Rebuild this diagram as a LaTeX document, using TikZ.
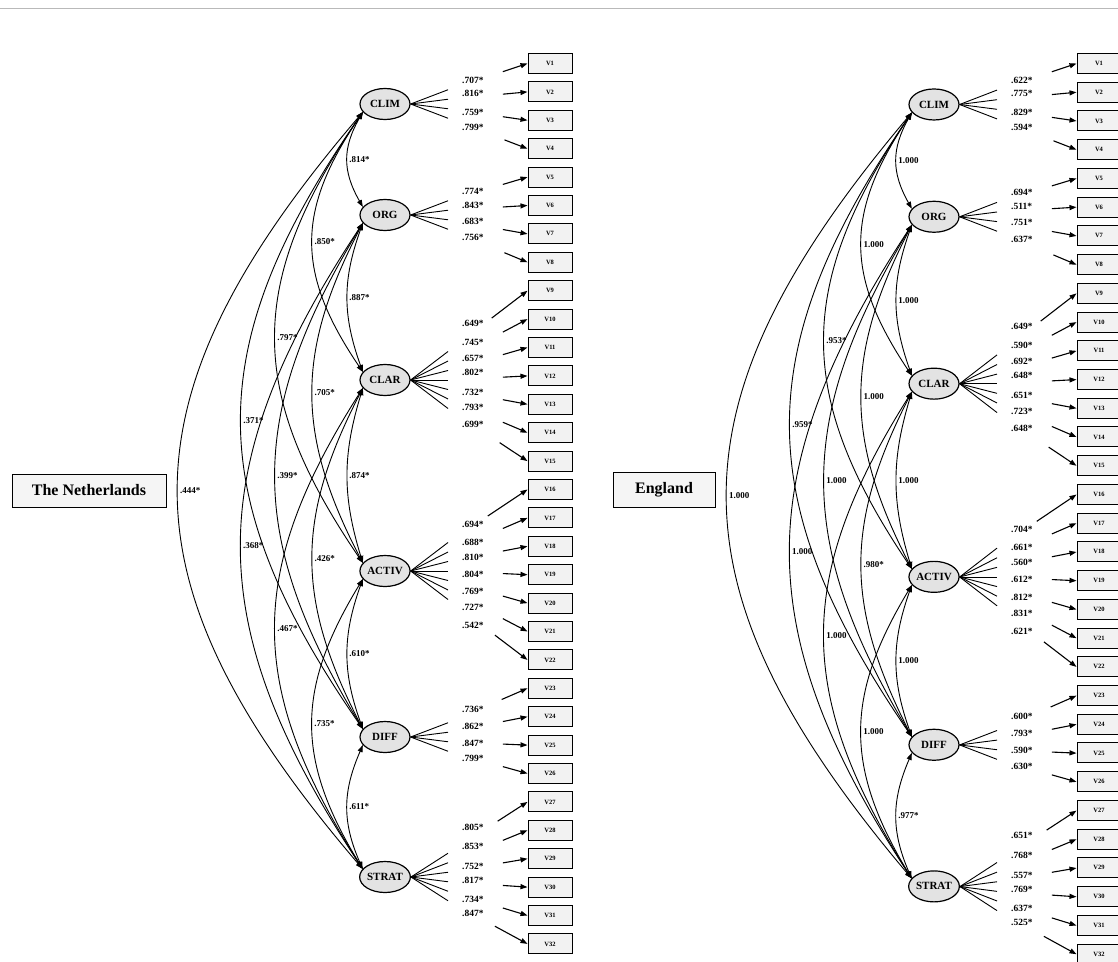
\documentclass[tikz,border=0pt]{standalone}
\usepackage{fontspec}
\setmainfont{Liberation Serif}
\usetikzlibrary{shapes.geometric,arrows.meta,calc}

\tikzset{
  factor/.style={ellipse, draw, line width=1.2pt, fill=gray!22, minimum width=50pt, minimum height=31pt, inner sep=0pt, font=\bfseries\fontsize{11}{11}\selectfont},
  ind/.style={rectangle, draw, line width=1pt, fill=gray!10, minimum width=44pt, minimum height=20pt, inner sep=0pt, font=\bfseries\fontsize{6.5}{7}\selectfont},
  load/.style={anchor=west, inner sep=0pt, font=\bfseries\fontsize{9.5}{10}\selectfont},
  clab/.style={anchor=west, inner sep=1.5pt, font=\bfseries\fontsize{9}{9}\selectfont},
  corr/.style={line width=0.9pt, {Triangle[length=7pt,width=5pt]}-{Triangle[length=7pt,width=5pt]}},
  fan/.style={line width=0.9pt},
  larrow/.style={line width=1.1pt, -{Triangle[length=7pt,width=5pt]}},
  titlebox/.style={draw, line width=1pt, fill=gray!8, inner sep=0pt, font=\bfseries\fontsize{16}{16}\selectfont},
  topline/.style={draw=gray!55, line width=0.8pt}
}

\newcommand{\sempanel}[3]{%
  \foreach \kk/\fy/\nm in {1/104/CLIM,2/215/ORG,3/380/CLAR,4/571/ACTIV,5/737/DIFF,6/877/STRAT}{
    \node[factor] (#1f\kk) at (385,-\fy) {\nm};
  }
  \foreach \ii in {1,...,32}{
    \node[ind] (#1v\ii) at (550,{-(63.5+(\ii-1)*28.4)}) {V\ii};
  }
  \foreach \kk/\fy/\nn/\st in {1/104/4/1,2/215/4/5,3/380/7/9,4/571/7/16,5/737/4/23,6/877/6/27}{
    \foreach \jj in {1,...,\nn}{
      \pgfmathtruncatemacro{\mm}{\st+\jj-1}
      \coordinate (#1e\mm) at (448,{-(\fy+(\jj-(\nn+1)/2)*9.5)});
      \draw[fan] (#1f\kk.east) -- (#1e\mm);
    }
  }
  \foreach \mm/\ff in {1/.69,2/.69,3/.69,4/.71,5/.69,6/.69,7/.69,8/.71,9/.55,10/.69,11/.69,12/.69,13/.69,14/.69,15/.65,16/.5,17/.69,18/.69,19/.69,20/.69,21/.69,22/.59,23/.675,24/.69,25/.69,26/.69,27/.625,28/.69,29/.69,30/.69,31/.69,32/.59}{
    \draw[larrow] ($(#1e\mm)!\ff!(#1v\mm.west)$) -- (#1v\mm.west);
  }
  \foreach \yy/\txt [count=\cc] in {#2}{
    \node[load] (#1l\cc) at (462,-\yy) {\txt};
  }
  \foreach \ii/\jj/\ax/\bx/\txt [count=\cc] in {#3}{
    \draw[corr] (#1f\ii.200) .. controls +(-\ax,-\bx) and +(-\ax,\bx) .. (#1f\jj.160) node[pos=0.5,clab] (#1c\cc) {\txt};
  }
}

\begin{document}
\begin{tikzpicture}[x=1pt,y=1pt]
\useasboundingbox (0,0) rectangle (1118,-961);
\draw[topline] (0,-8) -- (1118,-8);

\node[titlebox, minimum width=154pt, minimum height=33pt] (tnl) at (89,-490.5) {The Netherlands};
\node[titlebox, minimum width=102pt, minimum height=35pt] (teng) at (664,-489.5) {England};

\begin{scope}
\sempanel{L}{80/.707*,93/.816*,112/.759*,127/.799*,191/.774*,205/.843*,221/.683*,237/.756*,323/.649*,342/.745*,358/.657*,372/.802*,392/.732*,407/.793*,424/.699*,524/.694*,542/.688*,557/.810*,574/.804*,591/.769*,607/.727*,625/.542*,709/.736*,726/.862*,743/.847*,758/.799*,827/.805*,846/.853*,866/.752*,880/.817*,899/.734*,913/.847*}{1/2/20.5/36/.814*,2/3/20.5/57/.887*,3/4/20.5/67/.874*,4/5/20.5/57/.610*,5/6/20.5/47/.611*,1/3/67/99/.850*,2/4/67/129/.705*,3/5/67/130/.426*,4/6/67/110/.735*,1/4/116.5/171/.797*,2/5/116.5/192/.399*,3/6/116.5/183/.467*,1/5/162/234/.371*,2/6/162/245/.368*,1/6/246/288/.444*}
\end{scope}

\begin{scope}[xshift=549pt, yshift=0.72pt, yscale=1.0115]
\sempanel{R}{80/.622*,93/.775*,112/.829*,127/.594*,191/.694*,205/.511*,221/.751*,237/.637*,323/.649*,342/.590*,358/.692*,372/.648*,392/.651*,407/.723*,424/.648*,524/.704*,542/.661*,557/.560*,574/.612*,591/.812*,607/.831*,625/.621*,709/.600*,726/.793*,743/.590*,758/.630*,827/.651*,846/.768*,866/.557*,880/.769*,899/.637*,913/.525*}{1/2/20.5/36/1.000,2/3/20.5/57/1.000,3/4/20.5/67/1.000,4/5/20.5/57/1.000,5/6/20.5/47/.977*,1/3/67/99/1.000,2/4/67/129/1.000,3/5/67/130/.980*,4/6/67/110/1.000,1/4/116.5/171/.953*,2/5/116.5/192/1.000,3/6/116.5/183/1.000,1/5/162/234/.959*,2/6/162/245/1.000,1/6/246/288/1.000}
\end{scope}
\end{tikzpicture}
\end{document}
